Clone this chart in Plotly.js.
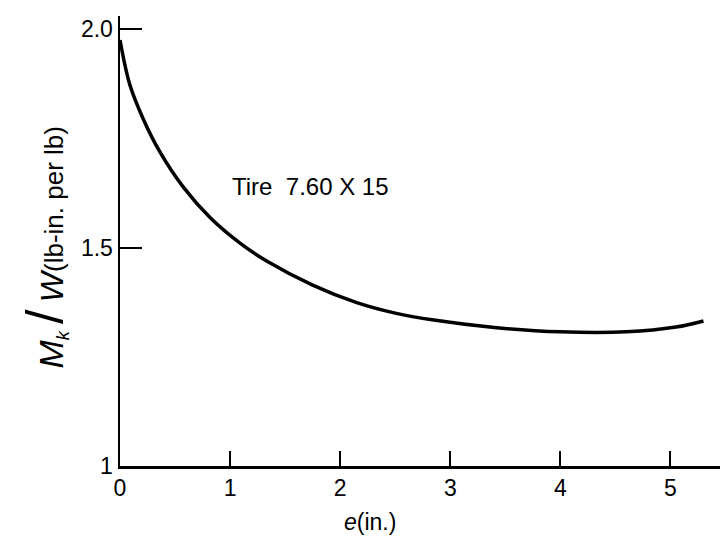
<!DOCTYPE html>
<html>
<head>
<meta charset="utf-8">
<script src="https://cdn.plot.ly/plotly-3.0.1.min.js"></script>
<style>html,body{margin:0;padding:0;background:#fff;}#chart{width:723px;height:544px;}</style>
</head>
<body>
<div id="chart"></div>
<script>
// Data
const eInches = [0, 0.09, 0.21, 0.36, 0.57, 0.82, 1.09, 1.34, 1.75, 2.15, 2.5, 2.85, 3.4, 4.0, 4.6, 5.05, 5.3];
const mkOverW = [1.975, 1.872, 1.795, 1.72, 1.64, 1.568, 1.51, 1.468, 1.414, 1.374, 1.35, 1.334, 1.317, 1.307, 1.307, 1.318, 1.332];
const xTickVals = [0, 1, 2, 3, 4, 5];
const xTickText = ['0', '1', '2', '3', '4', '5'];
const yTickVals = [1, 1.5, 2];
const yTickText = ['1', '1.5', '2.0'];
const curveLabel = 'Tire  7.60 X 15';

const font = 'Liberation Sans, Arial, sans-serif';

const trace = {
  x: eInches, y: mkOverW, type: 'scatter', mode: 'lines',
  line: {color: '#000', width: 3.5, shape: 'spline', smoothing: 1.0},
  hoverinfo: 'skip'
};

const layout = {
  width: 723, height: 544,
  margin: {l: 120, r: 3, t: 16, b: 78},
  paper_bgcolor: '#fff', plot_bgcolor: '#fff',
  showlegend: false,
  font: {family: font, color: '#000', size: 23},
  xaxis: {
    range: [0, 5.45], showgrid: false, zeroline: false,
    showline: true, linecolor: '#000', linewidth: 2.5,
    ticks: 'inside', ticklen: 15, tickwidth: 2, tickcolor: '#000',
    tickvals: xTickVals, ticktext: xTickText,
    tickfont: {family: font, size: 23, color: '#000'}
  },
  yaxis: {
    range: [1, 2.03], showgrid: false, zeroline: false,
    showline: true, linecolor: '#000', linewidth: 2.5,
    ticks: 'inside', ticklen: 22, tickwidth: 2, tickcolor: '#000',
    tickvals: yTickVals, ticktext: yTickText,
    tickfont: {family: font, size: 23, color: '#000'}
  },
  annotations: [
    {x: 1.73, y: 1.64, xref: 'x', yref: 'y', text: curveLabel, showarrow: false,
     font: {family: font, size: 24, color: '#000'}},
    {x: 0, y: 1.5, xref: 'paper', yref: 'y', xanchor: 'center', yanchor: 'middle',
     xshift: -75, textangle: -90, showarrow: false,
     text: '<i><span style="font-size:34px">M</span><sub>k</sub></i> <span style="font-size:52px">/</span> <i><span style="font-size:32px">W</span></i>(lb-in. per lb)',
     font: {family: font, size: 26, color: '#000'}},
    {x: 2.27, y: 0, xref: 'x', yref: 'paper', yanchor: 'middle', yshift: -56,
     showarrow: false, text: '<i>e</i>(in.)',
     font: {family: font, size: 23, color: '#000'}}
  ]
};

Plotly.newPlot('chart', [trace], layout, {displayModeBar: false, staticPlot: true});
</script>
</body>
</html>
